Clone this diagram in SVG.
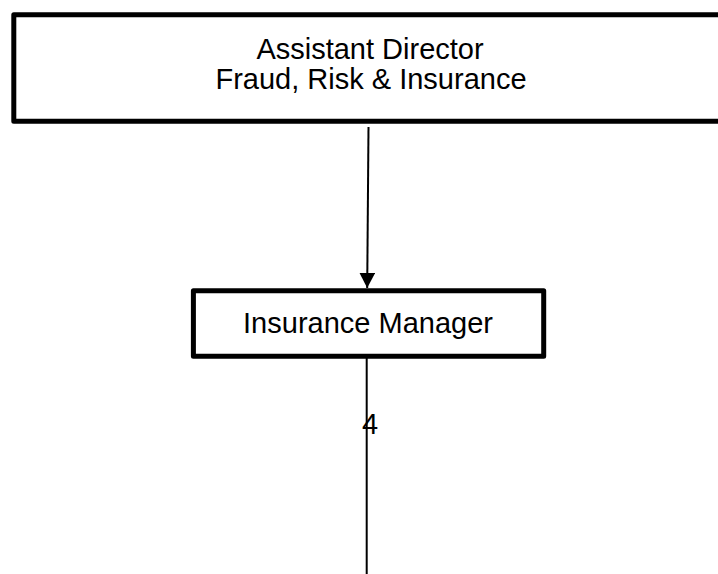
<svg xmlns="http://www.w3.org/2000/svg" width="718" height="574" viewBox="0 0 718 574">
  <style>
    .box { fill: #ffffff; stroke: #000000; stroke-width: 5; stroke-linejoin: round; }
    .lbl { font-family: "Liberation Sans", Arial, sans-serif; font-size: 29px; fill: #000000; text-anchor: middle; }
    .conn { stroke: #000000; stroke-width: 2; fill: none; }
  </style>
  <defs>
    <marker id="arrow" markerWidth="16" markerHeight="16" refX="15" refY="7.8" orient="auto" markerUnits="userSpaceOnUse" viewBox="0 0 16 16">
      <path d="M0,0 L15,7.8 L0,15.6 Z" fill="#000000"/>
    </marker>
  </defs>
  <rect x="0" y="0" width="718" height="574" fill="#ffffff"/>
  <g id="node-assistant-director">
    <rect class="box" x="13.8" y="14.8" width="720" height="106.5"/>
    <text class="lbl" x="370" y="58.5">Assistant Director</text>
    <text class="lbl" x="371" y="88.5">Fraud, Risk &amp; Insurance</text>
  </g>
  <g id="node-insurance-manager">
    <rect class="box" x="193.4" y="290.8" width="350.3" height="65.5"/>
    <text class="lbl" x="368" y="332.7">Insurance Manager</text>
  </g>
  <g id="connectors">
    <line class="conn" x1="368.5" y1="127" x2="367.2" y2="288" marker-end="url(#arrow)"/>
    <line class="conn" x1="366.7" y1="358" x2="366.7" y2="574"/>
    <text class="lbl" x="370" y="434">4</text>
  </g>
</svg>
